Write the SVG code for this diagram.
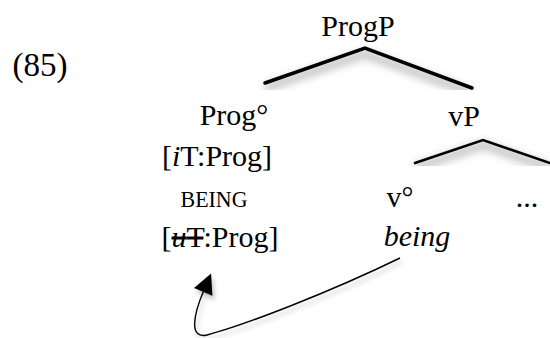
<svg xmlns="http://www.w3.org/2000/svg" width="550" height="338" viewBox="0 0 550 338">
  <defs>
    <style>
      .t { font-family: "Liberation Serif", "DejaVu Serif", serif; font-size: 30px; fill: #000; text-anchor: middle; }
      .sc { font-size: 24px; }
      .it { font-style: italic; }
      .branch { fill: none; stroke: #000; stroke-linecap: round; stroke-linejoin: miter; }
      .shadow { fill: none; stroke: #b8b8b8; stroke-width: 7; filter: url(#blur); }
    </style>
    <filter id="blur" x="-20%" y="-50%" width="140%" height="200%">
      <feGaussianBlur stdDeviation="4"/>
    </filter>
    <filter id="ashadow" x="-50%" y="-50%" width="200%" height="200%">
      <feGaussianBlur in="SourceAlpha" stdDeviation="2.5"/>
      <feOffset dx="2" dy="4" result="b"/>
      <feComponentTransfer><feFuncA type="linear" slope="0.25"/></feComponentTransfer>
      <feMerge><feMergeNode/><feMergeNode in="SourceGraphic"/></feMerge>
    </filter>
    <clipPath id="clipTop"><rect x="0" y="0" width="550" height="90"/></clipPath>
    <clipPath id="clipVP"><rect x="0" y="100" width="550" height="66"/></clipPath>
    <marker id="arrow" viewBox="0 0 20 20" refX="2" refY="10" markerWidth="21" markerHeight="20" markerUnits="userSpaceOnUse" orient="auto">
      <path d="M0,0 L20,10 L0,20 Z" fill="#000"/>
    </marker>
  </defs>
  <rect width="550" height="338" fill="#fff"/>

  <g id="connectors">
    <g clip-path="url(#clipTop)">
      <path class="shadow" d="M265,88 L365,54 L472,93"/>
    </g>
    <g clip-path="url(#clipVP)">
      <path class="shadow" d="M415,168 L483,145 L550,168"/>
    </g>
    <path class="branch" stroke-width="3.5" d="M265,83 L365,48 L472,88"/>
    <path class="branch" stroke-width="2.6" d="M415,163 L483,140 L550,163"/>
    <path filter="url(#ashadow)" fill="none" stroke="#000" stroke-width="1.4" d="M400,258 C330,292 245,325 207,335 C190,339 192,318 204,290" marker-end="url(#arrow)"/>
  </g>

  <g id="label-85"><text class="t" x="40" y="76" style="font-size:33px">(85)</text></g>
  <g id="node-ProgP"><text class="t" x="358" y="36">ProgP</text></g>
  <g id="node-Prog0">
    <text class="t" x="234" y="125">Prog°</text>
    <text class="t" x="217" y="166">[<tspan class="it">i</tspan>T:Prog]</text>
    <text class="t sc" x="214" y="207" textLength="67" lengthAdjust="spacingAndGlyphs">BEING</text>
    <text class="t" x="220" y="247">[<tspan text-decoration="line-through"><tspan class="it">u</tspan>T</tspan>:Prog]</text>
  </g>
  <g id="node-vP"><text class="t" x="464" y="126">vP</text></g>
  <g id="node-v0">
    <text class="t" x="400" y="207">v°</text>
    <text class="t it" x="417" y="246">being</text>
  </g>
  <g id="node-dots"><text class="t" x="527" y="207">...</text></g>
</svg>
